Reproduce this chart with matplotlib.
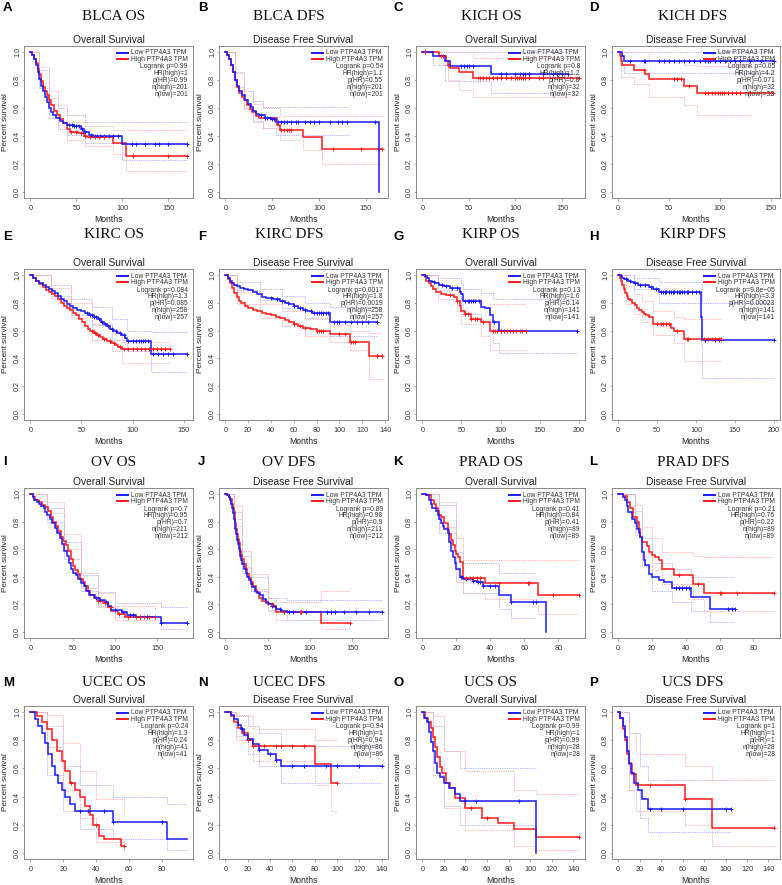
import numpy as np
import matplotlib
matplotlib.use("Agg")
import matplotlib.pyplot as plt

# ---------------- data ----------------
letters = list("ABCDEFGHIJKLMNOP")
titles = ["BLCA OS", "BLCA DFS", "KICH OS", "KICH DFS",
          "KIRC OS", "KIRC DFS", "KIRP OS", "KIRP DFS",
          "OV OS", "OV DFS", "PRAD OS", "PRAD DFS",
          "UCEC OS", "UCEC DFS", "UCS OS", "UCS DFS"]
subtitles = ["Overall Survival", "Disease Free Survival"] * 8
xmaxs = [170, 167, 168, 153, 153, 137, 200, 200, 185, 185, 92, 92, 95, 140, 145, 145]
xtick_sets = [[0, 50, 100, 150]] * 5 + [[0, 20, 40, 60, 80, 100, 120, 140]] + \
             [[0, 50, 100, 150, 200]] * 2 + [[0, 50, 100, 150]] * 2 + \
             [[0, 20, 40, 60, 80]] * 3 + [[0, 20, 40, 60, 80, 100, 120, 140]] * 3
legend_labels = ["Low PTP4A3 TPM", "High PTP4A3 TPM"]

A_stats = ["Logrank p=0.99", "HR(high)=1", "p(HR)=0.99", "n(high)=201", "n(low)=201"]
B_stats = ["Logrank p=0.54", "HR(high)=1.1", "p(HR)=0.55", "n(high)=201", "n(low)=201"]
C_stats = ["Logrank p=0.8", "HR(high)=1.2", "p(HR)=0.8", "n(high)=32", "n(low)=32"]
D_stats = ["Logrank p=0.05", "HR(high)=4.2", "p(HR)=0.071", "n(high)=32", "n(low)=32"]
E_stats = ["Logrank p=0.084", "HR(high)=1.3", "p(HR)=0.085", "n(high)=258", "n(low)=257"]
F_stats = ["Logrank p=0.0017", "HR(high)=1.8", "p(HR)=0.0019", "n(high)=258", "n(low)=257"]
G_stats = ["Logrank p=0.13", "HR(high)=1.6", "p(HR)=0.14", "n(high)=141", "n(low)=141"]
H_stats = ["Logrank p=9.8e\u221205", "HR(high)=3.3", "p(HR)=0.00023", "n(high)=141", "n(low)=141"]
I_stats = ["Logrank p=0.7", "HR(high)=0.95", "p(HR)=0.7", "n(high)=211", "n(low)=212"]
J_stats = ["Logrank p=0.89", "HR(high)=0.98", "p(HR)=0.9", "n(high)=211", "n(low)=212"]
K_stats = ["Logrank p=0.41", "HR(high)=0.84", "p(HR)=0.41", "n(high)=89", "n(low)=89"]
L_stats = ["Logrank p=0.21", "HR(high)=0.76", "p(HR)=0.22", "n(high)=89", "n(low)=89"]
M_stats = ["Logrank p=0.24", "HR(high)=1.3", "p(HR)=0.24", "n(high)=41", "n(low)=41"]
N_stats = ["Logrank p=0.94", "HR(high)=1", "p(HR)=0.94", "n(high)=86", "n(low)=86"]
O_stats = ["Logrank p=0.99", "HR(high)=1", "p(HR)=0.99", "n(high)=28", "n(low)=28"]
P_stats = ["Logrank p=1", "HR(high)=1", "p(HR)=1", "n(high)=28", "n(low)=28"]

# survival step points (time, survival); last entry = end of follow-up
A_low = [(0,1.0),(2,0.98),(4,0.95),(6,0.91),(8,0.86),(10,0.81),(12,0.76),(14,0.72),(16,0.68),(18,0.64),(20,0.60),(22,0.57),(25,0.55),(28,0.53),(32,0.51),(36,0.49),(40,0.48),(48,0.47),(55,0.45),(58,0.43),(64,0.41),(68,0.40),(100,0.34),(170,0.34)]
A_high = [(0,1.0),(2,0.98),(4,0.95),(6,0.92),(8,0.88),(10,0.84),(12,0.79),(14,0.75),(16,0.72),(18,0.69),(20,0.66),(23,0.62),(26,0.58),(29,0.55),(32,0.52),(36,0.49),(40,0.45),(43,0.43),(52,0.42),(58,0.40),(62,0.39),(90,0.35),(104,0.26),(170,0.26)]
A_low_cens = [42,45,48,50,53,56,60,66,70,73,76,80,86,90,95,110,115,125,135,140,150,170]
A_high_cens = [44,50,55,60,65,70,75,80,112,150,170]
A_low_ci = [(0,1,1),(10,0.74,0.87),(20,0.53,0.67),(30,0.45,0.60),(40,0.41,0.55),(60,0.35,0.50),(100,0.23,0.50),(170,0.23,0.50)]
A_high_ci = [(0,1,1),(10,0.78,0.89),(20,0.58,0.72),(30,0.48,0.62),(40,0.37,0.50),(60,0.33,0.47),(90,0.27,0.44),(104,0.15,0.44),(170,0.15,0.44)]

B_low = [(0,1.0),(2,0.98),(4,0.95),(6,0.91),(8,0.86),(10,0.80),(12,0.76),(15,0.72),(18,0.69),(21,0.66),(24,0.63),(27,0.61),(30,0.58),(33,0.56),(36,0.55),(42,0.53),(50,0.52),(54,0.50),(164,0.0)]
B_high = [(0,1.0),(2,0.98),(4,0.95),(6,0.91),(8,0.86),(10,0.80),(12,0.75),(15,0.71),(18,0.68),(20,0.66),(23,0.62),(26,0.59),(29,0.57),(33,0.54),(36,0.53),(55,0.48),(58,0.44),(83,0.39),(103,0.31),(167,0.31)]
B_low_cens = [38,42,45,48,50,52,56,60,63,66,70,75,78,85,90,95,100,112,120,125,130,160]
B_high_cens = [60,63,66,68,70,115,145,167]
B_low_ci = [(0,1,1),(10,0.75,0.86),(20,0.59,0.72),(30,0.51,0.65),(40,0.46,0.61),(54,0.41,0.61),(132,0.41,0.61)]
B_high_ci = [(0,1,1),(10,0.75,0.85),(20,0.60,0.72),(30,0.50,0.63),(40,0.46,0.60),(58,0.37,0.54),(83,0.30,0.54),(103,0.20,0.54),(167,0.20,0.54)]

C_low = [(0,1.0),(11,0.97),(24,0.935),(30,0.90),(74,0.845),(157,0.845)]
C_high = [(0,1.0),(18,0.968),(25,0.935),(28,0.91),(30,0.885),(39,0.855),(55,0.815),(168,0.815)]
C_low_cens = [3,42,45,48,50,55,85,90,100,105,108,110,115,130,140,145,150,157]
C_high_cens = [3,20,22,28,60,62,65,68,72,76,80,85,90,95,100,102,104,106,108,110,115,125,130,168]
C_low_ci = [(0,1,1),(11,0.91,1.0),(24,0.79,1.0),(74,0.71,1.0),(157,0.71,1.0)]
C_high_ci = [(0,1,1),(18,0.91,1.0),(28,0.80,1.0),(39,0.73,1.0),(55,0.68,0.96),(160,0.68,0.96)]

D_low = [(0,1.0),(4,0.968),(6,0.935),(153,0.935)]
D_high = [(0,1.0),(2,0.968),(3,0.935),(4,0.905),(16,0.87),(26,0.84),(30,0.806),(65,0.76),(77,0.705),(152,0.705)]
D_low_cens = [12,25,26,40,45,50,55,60,65,70,75,80,85,88,90,95,100,105,110,115,120,130,140,153]
D_high_cens = [25,55,58,62,70,85,88,92,95,98,100,102,104,108,112,116,120,130,152]
D_low_ci = [(0,1,1),(4,0.91,1),(6,0.85,1),(153,0.85,1)]
D_high_ci = [(0,1,1),(3,0.82,1),(16,0.77,1),(30,0.68,0.94),(65,0.62,0.91),(77,0.55,0.90),(130,0.55,0.90)]

E_low = [(0,1.0),(3,0.98),(6,0.96),(9,0.945),(12,0.93),(15,0.915),(18,0.90),(21,0.885),(24,0.87),(27,0.85),(30,0.83),(33,0.81),(36,0.79),(39,0.775),(42,0.765),(46,0.75),(50,0.74),(54,0.725),(57,0.71),(62,0.70),(66,0.685),(69,0.665),(72,0.65),(75,0.635),(78,0.615),(81,0.60),(85,0.585),(89,0.57),(93,0.545),(95,0.525),(118,0.43),(153,0.43)]
E_high = [(0,1.0),(3,0.975),(6,0.955),(9,0.935),(12,0.915),(15,0.895),(18,0.88),(21,0.865),(24,0.85),(27,0.825),(30,0.80),(33,0.78),(36,0.765),(39,0.745),(42,0.73),(45,0.71),(48,0.685),(51,0.66),(54,0.635),(56,0.61),(58,0.595),(62,0.585),(65,0.57),(68,0.555),(71,0.54),(75,0.525),(79,0.51),(83,0.495),(86,0.48),(90,0.465),(137,0.465)]
E_low_cens = [55,58,60,62,64,67,70,73,76,80,84,88,92,96,100,103,106,108,110,112,115,120,125,130,135,140,153]
E_high_cens = [60,63,66,72,78,82,88,92,96,100,104,108,112,116,120,124,128,132,137]
E_low_ci = [(0,1,1),(20,0.85,0.93),(40,0.71,0.83),(60,0.64,0.77),(80,0.53,0.68),(95,0.45,0.60),(118,0.30,0.59),(153,0.30,0.59)]
E_high_ci = [(0,1,1),(20,0.83,0.91),(40,0.69,0.80),(60,0.53,0.65),(80,0.45,0.58),(90,0.37,0.52),(137,0.37,0.52)]

F_low = [(0,1.0),(2,0.98),(4,0.96),(6,0.945),(8,0.93),(10,0.92),(13,0.91),(16,0.90),(20,0.89),(24,0.875),(28,0.86),(32,0.845),(36,0.835),(42,0.825),(48,0.81),(52,0.80),(56,0.79),(60,0.78),(64,0.765),(68,0.75),(72,0.74),(76,0.73),(92,0.665),(133,0.665)]
F_high = [(0,1.0),(2,0.97),(4,0.94),(6,0.91),(8,0.87),(10,0.84),(12,0.815),(14,0.80),(17,0.78),(20,0.765),(24,0.75),(28,0.74),(32,0.73),(36,0.72),(40,0.71),(44,0.70),(48,0.69),(52,0.675),(56,0.66),(60,0.65),(64,0.635),(68,0.62),(74,0.61),(80,0.595),(92,0.575),(109,0.52),(126,0.415),(137,0.415)]
F_low_cens = [40,45,50,55,60,65,70,75,78,80,82,84,86,88,90,95,98,100,105,110,115,120,125,133]
F_high_cens = [60,65,70,80,82,84,86,100,105,110,112,114,133,137]
F_low_ci = [(0,1,1),(10,0.89,0.95),(30,0.82,0.90),(50,0.76,0.85),(70,0.69,0.80),(92,0.56,0.77),(133,0.56,0.77)]
F_high_ci = [(0,1,1),(10,0.79,0.88),(30,0.69,0.79),(50,0.63,0.74),(70,0.56,0.68),(92,0.52,0.64),(109,0.46,0.60),(126,0.25,0.58),(137,0.25,0.58)]

G_low = [(0,1.0),(3,0.99),(6,0.975),(9,0.96),(12,0.95),(16,0.94),(22,0.93),(28,0.92),(35,0.91),(48,0.88),(50,0.86),(52,0.81),(75,0.77),(80,0.76),(87,0.71),(90,0.66),(98,0.60),(198,0.60)]
G_high = [(0,1.0),(3,0.985),(5,0.96),(8,0.94),(11,0.92),(14,0.90),(18,0.88),(24,0.86),(30,0.855),(40,0.84),(44,0.81),(48,0.78),(50,0.74),(55,0.72),(62,0.68),(75,0.665),(87,0.60),(132,0.60)]
G_low_cens = [15,25,30,38,45,55,58,60,62,65,68,72,92,100,198]
G_high_cens = [35,45,55,58,62,68,70,78,90,93,96,100,104,108,112,116,120,125,128,132]
G_low_ci = [(0,1,1),(20,0.89,0.98),(50,0.79,0.94),(52,0.72,0.90),(75,0.67,0.87),(90,0.51,0.83),(98,0.44,0.83),(198,0.44,0.83)]
G_high_ci = [(0,1,1),(20,0.83,0.93),(44,0.74,0.88),(50,0.65,0.83),(75,0.56,0.77),(87,0.46,0.79),(132,0.46,0.79)]

H_low = [(0,1.0),(3,0.99),(5,0.98),(8,0.97),(12,0.96),(16,0.95),(20,0.94),(26,0.93),(32,0.925),(40,0.915),(45,0.90),(53,0.875),(106,0.70),(108,0.53),(200,0.53)]
H_high = [(0,1.0),(2,0.98),(3,0.96),(5,0.93),(7,0.90),(9,0.87),(11,0.85),(13,0.83),(15,0.82),(18,0.80),(21,0.785),(24,0.765),(27,0.75),(30,0.735),(33,0.72),(36,0.71),(40,0.70),(45,0.65),(68,0.62),(72,0.60),(85,0.54),(132,0.54)]
H_low_cens = [10,15,22,28,35,42,48,55,58,60,62,65,68,70,72,75,78,80,82,85,88,90,95,100,104,112,125,130,200]
H_high_cens = [50,55,58,62,65,75,88,90,110,115,120,125,130,132]
H_low_ci = [(0,1,1),(20,0.90,0.98),(53,0.80,0.95),(106,0.50,0.95),(108,0.26,0.80),(200,0.26,0.80)]
H_high_ci = [(0,1,1),(10,0.79,0.92),(20,0.72,0.86),(30,0.66,0.81),(45,0.57,0.74),(72,0.51,0.70),(85,0.38,0.68),(132,0.38,0.68)]

I_low = [(0,1.0),(3,0.98),(5,0.96),(8,0.945),(10,0.93),(13,0.915),(16,0.895),(18,0.87),(20,0.85),(23,0.82),(26,0.79),(29,0.755),(32,0.72),(35,0.68),(38,0.635),(40,0.59),(43,0.55),(46,0.50),(48,0.46),(51,0.43),(54,0.41),(57,0.385),(60,0.355),(63,0.33),(66,0.30),(70,0.265),(76,0.25),(82,0.235),(88,0.215),(92,0.19),(95,0.16),(108,0.145),(114,0.12),(125,0.11),(155,0.065),(185,0.065)]
I_high = [(0,1.0),(3,0.975),(6,0.955),(10,0.94),(14,0.92),(18,0.905),(21,0.88),(24,0.83),(27,0.80),(30,0.765),(33,0.73),(36,0.69),(39,0.66),(42,0.63),(45,0.59),(48,0.53),(50,0.48),(53,0.45),(56,0.42),(59,0.385),(62,0.36),(65,0.33),(68,0.30),(71,0.27),(75,0.25),(80,0.225),(86,0.21),(92,0.18),(96,0.15),(104,0.13),(112,0.11),(148,0.11)]
I_low_cens = [78,82,90,100,110,118,122,130,138,155,185]
I_high_cens = [80,88,95,105,115,125,130,135,140,148]
I_low_ci = [(0,1,1),(20,0.80,0.90),(40,0.53,0.65),(60,0.30,0.41),(80,0.19,0.29),(100,0.11,0.21),(155,0.02,0.18),(185,0.02,0.18)]
I_high_ci = [(0,1,1),(20,0.86,0.94),(40,0.60,0.71),(60,0.32,0.43),(80,0.18,0.28),(100,0.09,0.19),(148,0.07,0.16)]

J_low = [(0,1.0),(2,0.99),(4,0.98),(6,0.96),(7,0.93),(8,0.90),(9,0.86),(10,0.82),(11,0.78),(12,0.745),(13,0.71),(14,0.67),(15,0.635),(16,0.60),(17,0.575),(18,0.55),(19,0.52),(20,0.49),(22,0.455),(24,0.43),(26,0.40),(28,0.375),(30,0.35),(32,0.325),(35,0.30),(38,0.28),(41,0.265),(45,0.24),(48,0.215),(51,0.20),(55,0.185),(60,0.165),(66,0.155),(73,0.145),(185,0.145)]
J_high = [(0,1.0),(2,0.99),(4,0.98),(6,0.965),(8,0.93),(9,0.90),(10,0.87),(11,0.83),(12,0.79),(13,0.75),(14,0.71),(15,0.675),(16,0.645),(17,0.615),(18,0.585),(19,0.56),(20,0.53),(22,0.49),(24,0.46),(26,0.42),(28,0.39),(30,0.36),(33,0.33),(36,0.29),(40,0.25),(44,0.225),(48,0.21),(52,0.20),(56,0.18),(60,0.145),(113,0.067),(148,0.067)]
J_low_cens = [55,65,75,80,90,95,120,125,130,140,155,170,185]
J_high_cens = [55,70,88,90,148]
J_low_ci = [(0,1,1),(10,0.77,0.87),(20,0.43,0.55),(30,0.30,0.40),(50,0.16,0.25),(73,0.09,0.23),(185,0.09,0.23)]
J_high_ci = [(0,1,1),(10,0.82,0.91),(20,0.47,0.59),(30,0.31,0.42),(50,0.15,0.25),(60,0.09,0.22),(113,0.02,0.30),(148,0.02,0.30)]

K_low = [(0,1.0),(2,0.99),(4,0.96),(5,0.93),(6,0.90),(8,0.88),(9,0.85),(10,0.82),(11,0.79),(12,0.77),(13,0.75),(15,0.72),(16,0.65),(17,0.59),(18,0.54),(19,0.50),(20,0.46),(22,0.40),(24,0.385),(30,0.37),(32,0.36),(36,0.335),(45,0.27),(52,0.215),(73,0.0)]
K_high = [(0,1.0),(2,0.99),(5,0.96),(7,0.925),(8,0.90),(9,0.875),(10,0.85),(11,0.83),(13,0.79),(15,0.74),(16,0.71),(17,0.67),(18,0.63),(19,0.59),(20,0.565),(21,0.54),(22,0.505),(24,0.39),(37,0.355),(68,0.265),(92,0.265)]
K_low_cens = [23,26,30,33,34,36,40,43,52,65,67]
K_high_cens = [26,28,30,32,34,45,62,63,77,92]
K_low_ci = [(0,1,1),(10,0.72,0.92),(20,0.36,0.58),(24,0.28,0.50),(45,0.17,0.43),(52,0.10,0.43),(66,0.10,0.43)]
K_high_ci = [(0,1,1),(10,0.76,0.94),(20,0.45,0.68),(24,0.28,0.52),(37,0.24,0.52),(68,0.13,0.52),(92,0.13,0.52)]

L_low = [(0,1.0),(3,0.98),(4,0.955),(5,0.91),(6,0.87),(8,0.82),(10,0.79),(11,0.75),(12,0.715),(13,0.69),(14,0.58),(15,0.52),(16,0.485),(18,0.42),(20,0.40),(24,0.38),(27,0.36),(32,0.32),(43,0.255),(54,0.17),(69,0.17)]
L_high = [(0,1.0),(3,0.985),(5,0.945),(7,0.895),(9,0.835),(11,0.80),(12,0.75),(13,0.69),(14,0.655),(17,0.62),(18,0.58),(20,0.56),(22,0.545),(24,0.52),(26,0.46),(33,0.41),(44,0.345),(51,0.28),(92,0.28)]
L_low_cens = [34,36,38,40,42,65,67,69]
L_high_cens = [36,47,60,61,70,92]
L_low_ci = [(0,1,1),(10,0.70,0.88),(14,0.48,0.68),(20,0.30,0.50),(32,0.22,0.46),(43,0.15,0.40),(54,0.07,0.40),(69,0.07,0.40)]
L_high_ci = [(0,1,1),(10,0.75,0.92),(14,0.55,0.76),(20,0.45,0.68),(26,0.35,0.58),(44,0.24,0.55),(51,0.15,0.54),(92,0.15,0.54)]

M_low = [(0,1.0),(3,0.95),(5,0.90),(7,0.85),(9,0.78),(11,0.70),(13,0.62),(15,0.55),(17,0.50),(19,0.45),(21,0.40),(24,0.35),(27,0.30),(50,0.22),(83,0.10),(95,0.10)]
M_high = [(0,1.0),(4,0.97),(7,0.93),(10,0.88),(13,0.80),(16,0.72),(19,0.65),(21,0.58),(24,0.50),(27,0.45),(30,0.40),(33,0.33),(36,0.27),(38,0.20),(42,0.12),(45,0.10),(55,0.05),(57,0.05)]
M_low_cens = [30,35,45,50,80]
M_high_cens = [25,40,57]
M_low_ci = [(0,1,1),(10,0.55,0.90),(20,0.30,0.62),(30,0.17,0.48),(50,0.10,0.40),(83,0.02,0.35),(95,0.02,0.35)]
M_high_ci = [(0,1,1),(10,0.75,0.98),(20,0.45,0.78),(30,0.25,0.58),(40,0.08,0.38),(57,0.0,0.25)]

N_low = [(0,1.0),(5,0.98),(8,0.95),(11,0.91),(14,0.88),(17,0.84),(20,0.81),(25,0.77),(30,0.73),(38,0.70),(45,0.66),(50,0.62),(140,0.62)]
N_high = [(0,1.0),(5,0.97),(8,0.93),(11,0.89),(15,0.85),(20,0.80),(25,0.76),(80,0.63),(95,0.50),(100,0.50)]
N_low_cens = [15,20,30,40,45,60,70,90,100,120,140]
N_high_cens = [20,25,35,45,50,60,70,100]
N_low_ci = [(0,1,1),(10,0.83,0.98),(20,0.70,0.90),(30,0.62,0.85),(50,0.50,0.76),(140,0.50,0.76)]
N_high_ci = [(0,1,1),(10,0.80,0.97),(25,0.65,0.88),(80,0.48,0.80),(95,0.30,0.80),(100,0.30,0.80)]

O_low = [(0,1.0),(2,0.96),(4,0.93),(6,0.86),(8,0.79),(10,0.72),(12,0.64),(14,0.57),(16,0.54),(20,0.50),(25,0.46),(30,0.42),(35,0.37),(105,0.0)]
O_high = [(0,1.0),(3,0.96),(5,0.93),(8,0.89),(10,0.82),(12,0.75),(14,0.68),(16,0.61),(18,0.57),(22,0.50),(26,0.46),(30,0.39),(40,0.32),(55,0.25),(70,0.21),(85,0.17),(105,0.11),(145,0.11)]
O_low_cens = [40,50,90]
O_high_cens = [45,60,145]
O_low_ci = [(0,1,1),(10,0.55,0.90),(20,0.33,0.72),(35,0.20,0.60),(105,0.20,0.60)]
O_high_ci = [(0,1,1),(10,0.65,0.97),(20,0.32,0.72),(40,0.16,0.58),(85,0.05,0.45),(105,0.02,0.42),(145,0.02,0.42)]

P_low = [(0,1.0),(2,0.96),(4,0.90),(6,0.82),(8,0.72),(10,0.64),(12,0.57),(15,0.50),(18,0.45),(22,0.38),(28,0.31),(105,0.31)]
P_high = [(0,1.0),(2,0.96),(4,0.88),(6,0.80),(8,0.70),(10,0.63),(13,0.56),(17,0.48),(62,0.38),(87,0.18),(145,0.18)]
P_low_cens = [30,40,60,100,105]
P_high_cens = [30,62,145]
P_low_ci = [(0,1,1),(10,0.45,0.85),(20,0.25,0.62),(28,0.15,0.52),(105,0.15,0.52)]
P_high_ci = [(0,1,1),(10,0.45,0.85),(17,0.30,0.70),(62,0.20,0.62),(87,0.05,0.52),(145,0.05,0.52)]

panel_data = [
    (A_low, A_high, A_low_cens, A_high_cens, A_low_ci, A_high_ci, A_stats),
    (B_low, B_high, B_low_cens, B_high_cens, B_low_ci, B_high_ci, B_stats),
    (C_low, C_high, C_low_cens, C_high_cens, C_low_ci, C_high_ci, C_stats),
    (D_low, D_high, D_low_cens, D_high_cens, D_low_ci, D_high_ci, D_stats),
    (E_low, E_high, E_low_cens, E_high_cens, E_low_ci, E_high_ci, E_stats),
    (F_low, F_high, F_low_cens, F_high_cens, F_low_ci, F_high_ci, F_stats),
    (G_low, G_high, G_low_cens, G_high_cens, G_low_ci, G_high_ci, G_stats),
    (H_low, H_high, H_low_cens, H_high_cens, H_low_ci, H_high_ci, H_stats),
    (I_low, I_high, I_low_cens, I_high_cens, I_low_ci, I_high_ci, I_stats),
    (J_low, J_high, J_low_cens, J_high_cens, J_low_ci, J_high_ci, J_stats),
    (K_low, K_high, K_low_cens, K_high_cens, K_low_ci, K_high_ci, K_stats),
    (L_low, L_high, L_low_cens, L_high_cens, L_low_ci, L_high_ci, L_stats),
    (M_low, M_high, M_low_cens, M_high_cens, M_low_ci, M_high_ci, M_stats),
    (N_low, N_high, N_low_cens, N_high_cens, N_low_ci, N_high_ci, N_stats),
    (O_low, O_high, O_low_cens, O_high_cens, O_low_ci, O_high_ci, O_stats),
    (P_low, P_high, P_low_cens, P_high_cens, P_low_ci, P_high_ci, P_stats),
]

# ---------------- layout / style ----------------
W, H = 782, 885
SANS = "Liberation Sans"
SERIF = "Liberation Serif"
BLUE = "#1a1aff"
RED = "#ff1a1a"
LBLUE = "#a6a6ff"
LRED = "#ffa6a6"
FRAME = "#8a8a8a"

col_box = [(24, 193), (219, 388), (416, 585), (612, 780)]
row_y = [(52, 192), (275, 414), (494, 632), (712, 853)]   # pixel rows of S=1.0 and S=0.0
title_cx = [114, 289, 491, 693]
title_cy = [16, 235, 462, 683]
letter_x = [3, 198, 393, 589]
letter_cy = [8, 237, 462, 683]

fig = plt.figure(figsize=(W / 100, H / 100), dpi=100)


def ftext(x, y, s, **kw):
    fig.text(x / W, 1 - y / H, s, **kw)


def draw_steps(ax, pts, color, lw, ls="-"):
    t = [p[0] for p in pts]
    s = [p[1] for p in pts]
    ax.step(t, s, where="post", color=color, lw=lw, ls=ls, solid_joinstyle="miter")


def surv_at(pts, x):
    t = np.array([p[0] for p in pts])
    s = np.array([p[1] for p in pts])
    i = np.searchsorted(t, x, side="right") - 1
    return s[np.clip(i, 0, len(s) - 1)]


for i in range(16):
    r, c = divmod(i, 4)
    low, high, lcens, hcens, lci, hci, stats = panel_data[i]
    xl, xr = col_box[c]
    y1, y0 = row_y[r]
    span = y0 - y1
    top = y1 - 0.04 * span
    bot = y0 + 0.04 * span
    wpx, hpx = xr - xl, bot - top
    ax = fig.add_axes([xl / W, 1 - bot / H, wpx / W, hpx / H])
    xmax = xmaxs[i]
    ax.set_xlim(-0.04 * xmax, 1.04 * xmax)
    ax.set_ylim(-0.04, 1.04)

    # confidence bands (dotted)
    for ci, col in ((lci, LBLUE), (hci, LRED)):
        t = [p[0] for p in ci]
        lo = [p[1] for p in ci]
        hi = [p[2] for p in ci]
        ax.step(t, lo, where="post", color=col, lw=0.65, ls=(0, (1, 1)))
        ax.step(t, hi, where="post", color=col, lw=0.65, ls=(0, (1, 1)))

    # survival curves
    draw_steps(ax, high, RED, 1.1)
    draw_steps(ax, low, BLUE, 1.1)
    ax.plot(lcens, surv_at(low, np.array(lcens)), ls="none", marker="+",
            ms=3.2, mew=0.7, color=BLUE)
    ax.plot(hcens, surv_at(high, np.array(hcens)), ls="none", marker="+",
            ms=3.2, mew=0.7, color=RED)

    # axes styling
    for sp in ax.spines.values():
        sp.set_color(FRAME)
        sp.set_linewidth(0.7)
    ax.set_xticks(xtick_sets[i])
    ax.set_xticklabels([str(v) for v in xtick_sets[i]], fontsize=5.2, family=SANS)
    yt = [0.0, 0.2, 0.4, 0.6, 0.8, 1.0]
    ax.set_yticks(yt)
    ax.set_yticklabels([f"{v:.1f}" for v in yt], fontsize=5.2, family=SANS,
                       rotation=90, va="center")
    ax.tick_params(direction="out", length=1.8, width=0.5, color=FRAME,
                   labelcolor="#333333")
    ax.tick_params(axis="x", pad=3.6)
    ax.tick_params(axis="y", pad=0.2)

    # legend + statistics (positioned relative to top-right corner)
    lines_y = [6.6, 13.0]
    for k, (lab, col) in enumerate(zip(legend_labels, (BLUE, RED))):
        yf = 1 - lines_y[k] / hpx
        ax.plot([1 - 76 / wpx, 1 - 65 / wpx], [yf, yf], transform=ax.transAxes,
                color=col, lw=1.4, clip_on=False)
        ax.text(1 - 62 / wpx, yf, lab, transform=ax.transAxes, fontsize=4.9,
                family=SANS, va="center", ha="left", color="#333333")
    for k, s in enumerate(stats):
        yf = 1 - (20.6 + 6.8 * k) / hpx
        ax.text(1 - 5 / wpx, yf, s, transform=ax.transAxes, fontsize=4.9,
                family=SANS, va="center", ha="right", color="#333333")

    # texts around the axes
    cx = (xl + xr) / 2
    ftext(cx, top - 6.5, subtitles[i], fontsize=7.4, family=SANS, ha="center",
          va="center", color="#222222")
    ftext(cx, bot + 22, "Months", fontsize=6.2, family=SANS, ha="center",
          va="center", color="#222222")
    ftext(xl - 18, (y1 + y0) / 2, "Percent survival", fontsize=5.9, family=SANS,
          ha="center", va="center", rotation=90, color="#222222")
    ftext(title_cx[c], title_cy[r], titles[i], fontsize=11, family=SERIF,
          ha="center", va="center", color="#111111")
    ftext(letter_x[c], letter_cy[r], letters[i], fontsize=9.5, family=SANS,
          fontweight="bold", ha="left", va="center", color="#000000")

fig.savefig("out.png", dpi=100)
